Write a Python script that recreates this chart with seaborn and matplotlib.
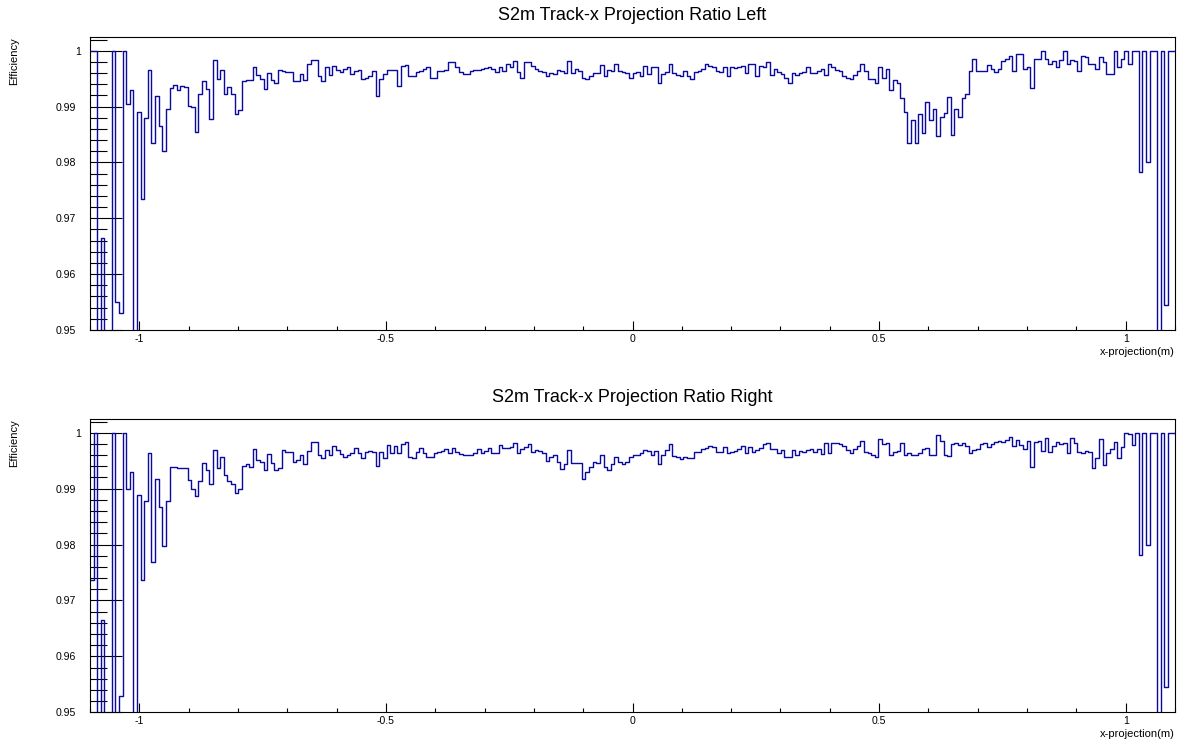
import numpy as np
import pandas as pd
import matplotlib
matplotlib.use("Agg")
import matplotlib.pyplot as plt
import matplotlib.transforms as mtransforms
import seaborn as sns
from matplotlib.ticker import FixedLocator, MultipleLocator

# Binning of the track x-projection histograms
x_min, x_max = -1.1, 1.1
n_bins = 300

titles = ["S2m Track-x Projection Ratio Left", "S2m Track-x Projection Ratio Right"]
x_label = "x-projection(m)"
y_label = "Efficiency"
x_ticks = [-1.0, -0.5, 0.0, 0.5, 1.0]
x_tick_labels = ["-1", "-0.5", "0", "0.5", "1"]
y_ticks = [0.95, 0.96, 0.97, 0.98, 0.99, 1.0]
y_tick_labels = ["0.95", "0.96", "0.97", "0.98", "0.99", "1"]

# Per-bin efficiency, left side
eff_left = [
    1.0, 1.0, 0.0, 0.9665, 0.0, 0.0, 1.0, 0.955, 0.953, 1.0,
    0.9905, 0.993, 0.0, 0.989, 0.9735, 0.988, 0.9965, 0.9835, 0.9918, 0.9865,
    0.982, 0.9895, 0.9933, 0.9938, 0.9930, 0.9937, 0.9935, 0.9901, 0.9900, 0.9855,
    0.9923, 0.9945, 0.9932, 0.9878, 0.9984, 0.9950, 0.9965, 0.9923, 0.9935, 0.9922,
    0.9887, 0.9893, 0.9946, 0.9947, 0.9948, 0.9971, 0.9956, 0.9950, 0.9932, 0.9960,
    0.9948, 0.9942, 0.9965, 0.9963, 0.9962, 0.9962, 0.9946, 0.9946, 0.9958, 0.9948,
    0.9976, 0.9984, 0.9984, 0.9954, 0.9946, 0.9971, 0.9957, 0.9973, 0.9965, 0.9961,
    0.9967, 0.9970, 0.9958, 0.9964, 0.9965, 0.9949, 0.9952, 0.9955, 0.9964, 0.9918,
    0.9949, 0.9958, 0.9965, 0.9966, 0.9966, 0.9937, 0.9973, 0.9974, 0.9954, 0.9955,
    0.9961, 0.9963, 0.9968, 0.9970, 0.9951, 0.9951, 0.9964, 0.9964, 0.9965, 0.9979,
    0.9979, 0.9971, 0.9961, 0.9958, 0.9958, 0.9964, 0.9966, 0.9966, 0.9967, 0.9969,
    0.9971, 0.9967, 0.9962, 0.9970, 0.9964, 0.9976, 0.9970, 0.9982, 0.9962, 0.9951,
    0.9979, 0.9979, 0.9973, 0.9967, 0.9964, 0.9962, 0.9954, 0.9960, 0.9959, 0.9966,
    0.9964, 0.9960, 0.9982, 0.9960, 0.9967, 0.9963, 0.9951, 0.9949, 0.9954, 0.9960,
    0.9960, 0.9974, 0.9955, 0.9966, 0.9963, 0.9977, 0.9963, 0.9961, 0.9960, 0.9951,
    0.9960, 0.9961, 0.9954, 0.9973, 0.9958, 0.9971, 0.9970, 0.9943, 0.9958, 0.9961,
    0.9976, 0.9960, 0.9957, 0.9954, 0.9964, 0.9954, 0.9949, 0.9961, 0.9964, 0.9967,
    0.9976, 0.9973, 0.9970, 0.9963, 0.9961, 0.9971, 0.9954, 0.9970, 0.9969, 0.9971,
    0.9973, 0.9960, 0.9976, 0.9976, 0.9955, 0.9973, 0.9971, 0.9979, 0.9957, 0.9967,
    0.9961, 0.9958, 0.9952, 0.9943, 0.9960, 0.9957, 0.9960, 0.9961, 0.9970, 0.9960,
    0.9960, 0.9964, 0.9968, 0.9957, 0.9977, 0.9970, 0.9966, 0.9963, 0.9955, 0.9951,
    0.9950, 0.9957, 0.9963, 0.9977, 0.9963, 0.9950, 0.9949, 0.9943, 0.9970, 0.9951,
    0.9968, 0.9930, 0.9948, 0.9942, 0.9915, 0.9891, 0.9834, 0.9876, 0.9834, 0.9886,
    0.9852, 0.9909, 0.9876, 0.9895, 0.9847, 0.9882, 0.9888, 0.9917, 0.9849, 0.9895,
    0.9882, 0.9915, 0.9923, 0.9964, 0.9986, 0.9963, 0.9963, 0.9964, 0.9974, 0.9968,
    0.9961, 0.9967, 0.9982, 0.9985, 0.9991, 0.9964, 0.9994, 0.9994, 0.9968, 0.9970,
    0.9933, 0.9986, 0.9986, 1.0, 0.9986, 0.9977, 0.9982, 0.9970, 0.9983, 1.0,
    0.9976, 0.9983, 0.9982, 0.9964, 0.9990, 0.9989, 0.9977, 0.9976, 0.9967, 0.9989,
    0.9980, 0.9958, 0.9958, 1.0, 0.9970, 0.9986, 1.0, 0.9977, 1.0, 1.0,
    0.9782, 1.0, 0.9800, 1.0, 1.0, 0.0, 1.0, 0.9545, 1.0, 1.0,
]

# Per-bin efficiency, right side
eff_right = [
    0.9737, 1.0, 0.0, 0.9665, 0.0, 0.0, 1.0, 0.0, 0.953, 1.0,
    0.9900, 0.9929, 0.0, 0.9889, 0.9737, 0.9877, 0.9963, 0.9769, 0.9917, 0.9867,
    0.9797, 0.9877, 0.9938, 0.9938, 0.9937, 0.9936, 0.9936, 0.9915, 0.9899, 0.9887,
    0.9914, 0.9946, 0.9933, 0.9908, 0.9969, 0.9936, 0.9957, 0.9924, 0.9914, 0.9908,
    0.9893, 0.9899, 0.9940, 0.9944, 0.9938, 0.9971, 0.9952, 0.9948, 0.9934, 0.9962,
    0.9945, 0.9934, 0.9936, 0.9969, 0.9965, 0.9965, 0.9947, 0.9951, 0.9961, 0.9944,
    0.9968, 0.9984, 0.9984, 0.9961, 0.9955, 0.9969, 0.9960, 0.9976, 0.9969, 0.9962,
    0.9957, 0.9961, 0.9964, 0.9972, 0.9963, 0.9954, 0.9966, 0.9967, 0.9966, 0.9941,
    0.9966, 0.9954, 0.9978, 0.9963, 0.9976, 0.9963, 0.9979, 0.9983, 0.9957, 0.9954,
    0.9966, 0.9972, 0.9964, 0.9957, 0.9957, 0.9964, 0.9965, 0.9967, 0.9971, 0.9963,
    0.9972, 0.9966, 0.9962, 0.9960, 0.9960, 0.9960, 0.9963, 0.9970, 0.9964, 0.9967,
    0.9973, 0.9964, 0.9964, 0.9978, 0.9972, 0.9972, 0.9974, 0.9981, 0.9963, 0.9970,
    0.9974, 0.9979, 0.9966, 0.9969, 0.9968, 0.9963, 0.9950, 0.9957, 0.9961, 0.9947,
    0.9935, 0.9944, 0.9969, 0.9946, 0.9946, 0.9945, 0.9918, 0.9929, 0.9938, 0.9948,
    0.9945, 0.9961, 0.9938, 0.9934, 0.9944, 0.9957, 0.9948, 0.9944, 0.9948, 0.9957,
    0.9960, 0.9960, 0.9963, 0.9969, 0.9968, 0.9960, 0.9968, 0.9944, 0.9961, 0.9969,
    0.9979, 0.9959, 0.9957, 0.9953, 0.9957, 0.9954, 0.9954, 0.9966, 0.9966, 0.9970,
    0.9972, 0.9977, 0.9974, 0.9966, 0.9966, 0.9975, 0.9964, 0.9966, 0.9968, 0.9970,
    0.9976, 0.9964, 0.9974, 0.9966, 0.9969, 0.9973, 0.9979, 0.9981, 0.9970, 0.9970,
    0.9964, 0.9969, 0.9956, 0.9956, 0.9969, 0.9960, 0.9968, 0.9966, 0.9969, 0.9970,
    0.9966, 0.9970, 0.9962, 0.9981, 0.9963, 0.9982, 0.9981, 0.9979, 0.9976, 0.9969,
    0.9964, 0.9970, 0.9976, 0.9986, 0.9966, 0.9963, 0.9961, 0.9957, 0.9989, 0.9979,
    0.9981, 0.9961, 0.9966, 0.9968, 0.9981, 0.9961, 0.9964, 0.9961, 0.9960, 0.9964,
    0.9970, 0.9973, 0.9961, 0.9960, 0.9995, 0.9986, 0.9960, 0.9959, 0.9979, 0.9981,
    0.9978, 0.9981, 0.9976, 0.9964, 0.9969, 0.9971, 0.9979, 0.9982, 0.9975, 0.9979,
    0.9983, 0.9986, 0.9983, 0.9987, 0.9993, 0.9976, 0.9987, 0.9978, 0.9970, 0.9985,
    0.9938, 0.9983, 0.9985, 0.9968, 0.9991, 0.9966, 0.9976, 0.9984, 0.9980, 0.9981,
    0.9964, 0.9990, 0.9981, 0.9966, 0.9963, 0.9968, 0.9966, 0.9936, 0.9955, 0.9988,
    0.9942, 0.9963, 0.9970, 0.9984, 0.9954, 0.9975, 1.0, 0.9997, 0.9978, 1.0,
    0.9781, 1.0, 0.9799, 1.0, 1.0, 0.0, 1.0, 0.9546, 1.0, 1.0,
]

assert len(eff_left) == n_bins and len(eff_right) == n_bins

sns.set_style("white")
plt.rcParams["font.family"] = ["Liberation Sans", "DejaVu Sans"]
for key in ("text.color", "axes.labelcolor", "xtick.color", "ytick.color",
            "axes.edgecolor"):
    plt.rcParams[key] = "black"

W, H = 1178, 740
fig = plt.figure(figsize=(W / 100, H / 100), dpi=100)

# pad geometry in pixels: (left, top, right, bottom)
frames = [(90, 37, 1175, 330), (90, 419, 1175, 712.3)]

width = (x_max - x_min) / n_bins
centers = x_min + width * (np.arange(n_bins) + 0.5)

line_color = "#0a0a9e"

for (l, t, r, b), values, title in zip(frames, [eff_left, eff_right], titles):
    ax = fig.add_axes([l / W, 1 - b / H, (r - l) / W, (b - t) / H])
    df = pd.DataFrame({"x": centers, "eff": values})
    sns.histplot(data=df, x="x", weights="eff", bins=n_bins,
                 binrange=(x_min, x_max), element="step", fill=False,
                 color=line_color, linewidth=1.0, ax=ax)

    ax.set_xlim(x_min, x_max)
    ax.set_ylim(0.95, 1.00245)

    ax.xaxis.set_major_locator(FixedLocator(x_ticks))
    ax.set_xticklabels(x_tick_labels)
    ax.xaxis.set_minor_locator(MultipleLocator(0.1))
    ax.yaxis.set_major_locator(FixedLocator(y_ticks))
    ax.set_yticklabels(y_tick_labels)
    ax.yaxis.set_minor_locator(MultipleLocator(0.002))

    ax.tick_params(axis="x", which="major", direction="in", length=6.5, width=0.8,
                   pad=3, labelsize=7.6, bottom=True, top=False)
    ax.tick_params(axis="x", which="minor", direction="in", length=3.2, width=0.8,
                   bottom=True, top=False)
    ax.tick_params(axis="y", which="major", direction="in", length=23, width=0.8,
                   pad=10, labelsize=7.6, left=True, right=False)
    ax.tick_params(axis="y", which="minor", direction="in", length=12.2, width=0.8,
                   left=True, right=False)

    # the integer label sits a little closer to the axis
    top_label = ax.yaxis.get_major_ticks()[-1].label1
    top_label.set_transform(top_label.get_transform() +
                            mtransforms.ScaledTranslation(5 / 100, 0, fig.dpi_scale_trans))

    for s in ax.spines.values():
        s.set_color("black")
        s.set_linewidth(0.8)

    ax.set_title(title, fontsize=13, pad=12, color="black")
    ax.set_xlabel(x_label, fontsize=8, loc="right", labelpad=2)
    ax.set_ylabel(y_label, fontsize=8, loc="top", labelpad=0)
    ax.yaxis.set_label_coords((19 - l) / (r - l), 1.0)

fig.savefig("out.png", dpi=100)
